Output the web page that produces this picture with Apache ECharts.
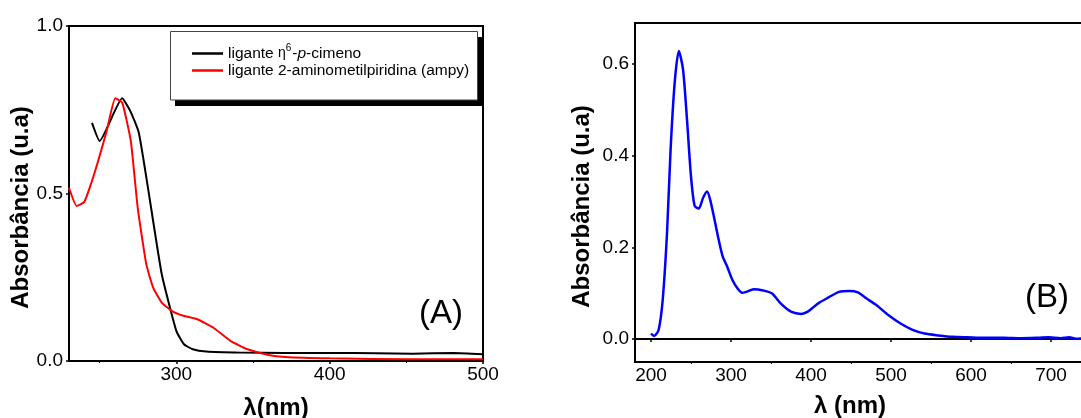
<!DOCTYPE html>
<html>
<head>
<meta charset="utf-8">
<script src="https://cdn.jsdelivr.net/npm/echarts@6/dist/echarts.min.js"></script>
<style>
html,body{margin:0;padding:0;background:#fff;}
#c{width:1081px;height:418px;}
</style>
</head>
<body>
<div id="c"></div>
<script>
// ---- Panel A data ----
const seriesNameA1 = 'ligante η6-p-cimeno';
const seriesNameA2 = 'ligante 2-aminometilpiridina (ampy)';
const wlA1 = [245, 250, 264.7, 270, 275.5, 281.5, 290.5, 300, 305, 310.7, 319.6, 342, 370, 400, 430, 454, 481, 500];
const absA1 = [0.711, 0.657, 0.784, 0.746, 0.682, 0.517, 0.259, 0.09, 0.05, 0.035, 0.028, 0.025, 0.024, 0.024, 0.023, 0.022, 0.024, 0.02];
const wlA2 = [230, 235, 240, 244.6, 249, 254.6, 260.2, 264.7, 270.3, 274.8, 280.4, 284.9, 290.5, 297.2, 304, 314, 324, 335.3, 346.5, 360, 371, 400, 454, 500];
const absA2 = [0.517, 0.463, 0.475, 0.532, 0.597, 0.687, 0.784, 0.771, 0.657, 0.458, 0.289, 0.219, 0.174, 0.149, 0.136, 0.124, 0.10, 0.06, 0.035, 0.018, 0.012, 0.008, 0.005, 0.005];
const xTicksA = [300, 400, 500];
const xMinorA = [250, 350, 450];

// ---- Panel B data ----
const wlB = [200, 204, 209.5, 214.6, 220, 224.5, 229.6, 234.8, 240, 245, 250, 254.5, 259.7, 265, 270, 274, 279.5, 284.6, 289.7, 295.3, 301.8, 308, 313.8, 319, 328.4, 340.5, 351, 362, 375, 387.8, 396, 409, 422, 435, 448, 458.6, 469, 482, 497, 512, 527, 542, 559.5, 576.7, 596, 619.6, 641, 662.5, 684, 697, 712, 723, 731, 745, 760];
const absB = [0.012, 0.007, 0.02, 0.085, 0.231, 0.414, 0.56, 0.629, 0.589, 0.479, 0.355, 0.291, 0.285, 0.308, 0.322, 0.304, 0.26, 0.217, 0.18, 0.158, 0.129, 0.111, 0.101, 0.103, 0.109, 0.106, 0.10, 0.078, 0.06, 0.055, 0.06, 0.078, 0.091, 0.103, 0.105, 0.102, 0.089, 0.074, 0.052, 0.034, 0.02, 0.012, 0.008, 0.005, 0.004, 0.003, 0.003, 0.002, 0.003, 0.004, 0.002, 0.004, 0.001, 0.002, 0.003];
const xTicksB = [200, 300, 400, 500, 600, 700, 800];
const xMinorB = [250, 350, 450, 550, 650, 750];
const yTicksB = [0, 0.2, 0.4, 0.6];

const zip = (a, b) => a.map((v, i) => [v, b[i]]);
const FF = "'Liberation Sans', Arial, Helvetica, sans-serif";

const axisLineStyle = { show: true, lineStyle: { color: '#000', width: 2 } };
const labelStyle = { color: '#000', fontSize: 19, fontFamily: FF };

const chart = echarts.init(document.getElementById('c'), null, { renderer: 'canvas' });
chart.setOption({
  animation: false,
  backgroundColor: '#fff',
  grid: [
    { left: 69, top: 26, width: 414, height: 335, show: true, borderColor: '#000', borderWidth: 2, backgroundColor: 'transparent', outerBoundsMode: 'none', containLabel: false },
    { left: 635, top: 23, width: 496, height: 339, show: true, borderColor: '#000', borderWidth: 2, backgroundColor: 'transparent', outerBoundsMode: 'none', containLabel: false }
  ],
  xAxis: [
    { type: 'value', gridIndex: 0, min: 230, max: 500, position: 'bottom',
      axisLine: axisLineStyle, splitLine: { show: false },
      axisTick: { show: true, inside: false, length: 3, customValues: xTicksA, lineStyle: { color: '#000', width: 1.5 } },
      axisLabel: Object.assign({ margin: 4, customValues: xTicksA, formatter: v => String(v) }, labelStyle) },
    { type: 'value', gridIndex: 0, min: 230, max: 500, position: 'bottom',
      axisLine: { show: false }, splitLine: { show: false }, axisLabel: { show: false },
      axisTick: { show: true, length: 2, customValues: xMinorA, lineStyle: { color: '#000', width: 1 } } },
    { type: 'value', gridIndex: 1, min: 180, max: 800, position: 'bottom',
      axisLine: axisLineStyle, splitLine: { show: false },
      axisTick: { show: true, inside: false, length: 3, customValues: xTicksB, lineStyle: { color: '#000', width: 1.5 } },
      axisLabel: Object.assign({ margin: 4, customValues: xTicksB, formatter: v => String(v) }, labelStyle) },
    { type: 'value', gridIndex: 1, min: 180, max: 800, position: 'bottom',
      axisLine: { show: false }, splitLine: { show: false }, axisLabel: { show: false },
      axisTick: { show: true, length: 2, customValues: xMinorB, lineStyle: { color: '#000', width: 1 } } }
  ],
  yAxis: [
    { type: 'value', gridIndex: 0, min: 0, max: 1, interval: 0.5,
      axisLine: axisLineStyle, splitLine: { show: false },
      axisTick: { show: true, length: 3, lineStyle: { color: '#000', width: 1.5 } },
      axisLabel: Object.assign({ margin: 6, formatter: v => v.toFixed(1) }, labelStyle) },
    { type: 'value', gridIndex: 1, min: -0.05, max: 0.69,
      axisLine: axisLineStyle, splitLine: { show: false },
      axisTick: { show: true, length: 3, customValues: yTicksB, lineStyle: { color: '#000', width: 1.5 } },
      axisLabel: Object.assign({ margin: 6, customValues: yTicksB, formatter: v => v.toFixed(1) }, labelStyle) }
  ],
  legend: {
    data: [seriesNameA1, seriesNameA2],
    orient: 'vertical',
    left: 170, top: 31,
    padding: [12, 6, 24, 22],
    itemGap: 1,
    itemWidth: 31, itemHeight: 2.5,
    icon: 'rect',
    backgroundColor: 'transparent',
    borderWidth: 0,
    selectedMode: false,
    z: 10,
    textStyle: {
      color: '#000', fontSize: 15.5, fontFamily: FF, lineHeight: 16,
      rich: {
        t: { fontSize: 15.5, fontFamily: FF, color: '#000' },
        eta: { fontSize: 14, fontFamily: FF, color: '#000' },
        sup: { fontSize: 10, fontFamily: FF, color: '#000', padding: [0, 1, 11, 0] },
        it: { fontSize: 15.5, fontFamily: FF, fontStyle: 'italic', color: '#000' }
      }
    },
    formatter: function (name) {
      if (name === seriesNameA1) return '{t|ligante }{eta|η}{sup|6}{t|-}{it|p}{t|-cimeno}';
      return '{t|' + name + '}';
    }
  },
  series: [
    { name: seriesNameA1, type: 'line', xAxisIndex: 0, yAxisIndex: 0, data: zip(wlA1, absA1),
      symbol: 'none', smooth: 0.15, lineStyle: { color: '#000', width: 2 }, itemStyle: { color: '#000' } },
    { name: seriesNameA2, type: 'line', xAxisIndex: 0, yAxisIndex: 0, data: zip(wlA2, absA2),
      symbol: 'none', smooth: 0.15, lineStyle: { color: '#ff0000', width: 2 }, itemStyle: { color: '#ff0000' } },
    { name: 'B', type: 'line', xAxisIndex: 2, yAxisIndex: 1, data: zip(wlB, absB),
      symbol: 'none', smooth: 0.25, lineStyle: { color: '#0000ff', width: 2.5 }, itemStyle: { color: '#0000ff' } }
  ],
  graphic: [
    { type: 'rect', z: 5, shape: { x: 175, y: 37, width: 308, height: 69 }, style: { fill: '#000' } },
    { type: 'rect', z: 6, shape: { x: 170.5, y: 31.5, width: 307, height: 68.5 }, style: { fill: '#fff', stroke: '#444', lineWidth: 1 } },
    { type: 'text', x: 21, y: 207.5, rotation: Math.PI / 2,
      style: { text: 'Absorbância (u.a)', fontSize: 24, fontWeight: 'bold', fontFamily: FF, fill: '#000', align: 'center', verticalAlign: 'middle' } },
    { type: 'text', x: 582, y: 206.5, rotation: Math.PI / 2,
      style: { text: 'Absorbância (u.a)', fontSize: 24, fontWeight: 'bold', fontFamily: FF, fill: '#000', align: 'center', verticalAlign: 'middle' } },
    { type: 'text', x: 276, y: 408,
      style: { text: 'λ(nm)', fontSize: 24, fontWeight: 'bold', fontFamily: FF, fill: '#000', align: 'center', verticalAlign: 'middle' } },
    { type: 'text', x: 850, y: 406,
      style: { text: 'λ (nm)', fontSize: 24, fontWeight: 'bold', fontFamily: FF, fill: '#000', align: 'center', verticalAlign: 'middle' } },
    { type: 'text', x: 441, y: 314,
      style: { text: '(A)', fontSize: 33, fontFamily: FF, fill: '#000', align: 'center', verticalAlign: 'middle' } },
    { type: 'text', x: 1047, y: 298,
      style: { text: '(B)', fontSize: 33, fontFamily: FF, fill: '#000', align: 'center', verticalAlign: 'middle' } }
  ]
});
</script>
</body>
</html>
